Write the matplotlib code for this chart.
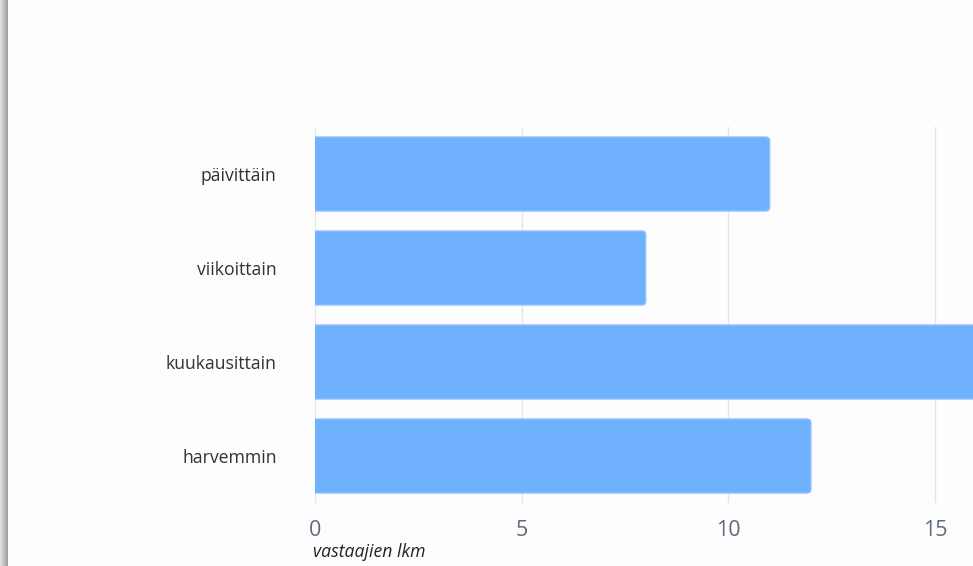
import matplotlib
matplotlib.use("Agg")
import matplotlib.pyplot as plt
from matplotlib.patches import FancyBboxPatch, Rectangle

# vastausten jakauma
categories = ["päivittäin", "viikoittain", "kuukausittain", "harvemmin"]
counts = [11, 8, 17, 12]
xticks = [0, 5, 10, 15]

plt.rcParams['font.family'] = ['Open Sans', 'DejaVu Sans']

fig = plt.figure(figsize=(9.73, 5.66), dpi=100)
fig.patch.set_facecolor("#fdfdfd")

# harmaa reunavarjo vasemmalla
shade = ["#e4e4e4", "#d6d6d6", "#cccccc", "#c4c4c4", "#bcbcbc", "#b2b2b2", "#a8a8a8", "#a0a0a0"]
for i, c in enumerate(shade):
    fig.patches.append(Rectangle((i / 973, 0), 1 / 973, 1, transform=fig.transFigure,
                                 facecolor=c, edgecolor="none", zorder=0))

ax = fig.add_axes([315 / 973, 63 / 566, 658 / 973, 376 / 566])
ax.set_facecolor("#fdfdfd")

y = list(range(len(categories)))
bars = ax.barh(y, counts, height=0.787, color="#6fb1fd")
ax.set_xlim(0, 658 / 41.33)
ax.set_ylim(len(categories) - 0.5, -0.5)

# pyöristetyt oikeat kulmat, vasen reuna leikataan akselin kohdalta
px_x = 1 / 41.33
px_y = 1 / 94.0
r = 4 * px_x
for b in bars:
    x0, y0 = b.get_x(), b.get_y()
    w, h = b.get_width(), b.get_height()
    b.set_visible(False)
    ax.add_patch(FancyBboxPatch((x0 - r, y0), w + r, h,
                                boxstyle=f"round,pad=0,rounding_size={r}",
                                mutation_aspect=px_y / px_x,
                                facecolor="#6fb1fd", edgecolor="#8cc2ff", linewidth=1, zorder=3))

ax.set_yticks(y)
ax.set_yticklabels(categories, fontsize=12.7, color="#333333")
ax.set_xticks(xticks)
ax.set_xticklabels([str(t) for t in xticks], fontsize=15.5, color="#5f6b7a")
ax.tick_params(axis="y", length=0, pad=27.5)
ax.tick_params(axis="x", length=0, pad=12)

ax.grid(axis="x", color="#e6e6e6", linewidth=1, zorder=0)
ax.set_axisbelow(True)
for s in ax.spines.values():
    s.set_visible(False)

fig.text(313 / 973, 1 - 552 / 566, "vastaajien lkm", fontsize=12.7, style="italic",
         color="#222222", va="center", ha="left")

fig.savefig("out.png", dpi=100, facecolor=fig.get_facecolor())
